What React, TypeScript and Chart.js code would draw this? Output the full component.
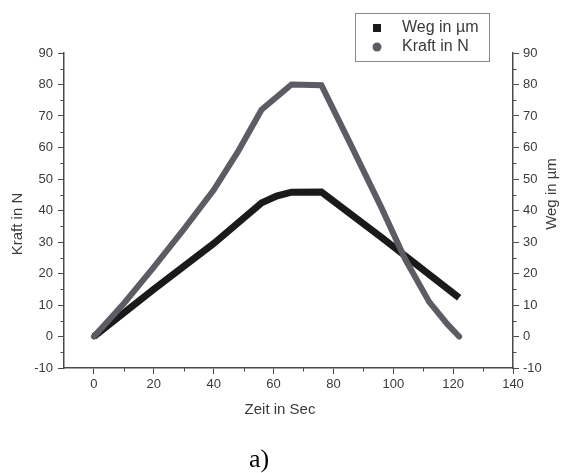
import React, { useEffect, useRef } from "react";
import { Chart, registerables } from "chart.js";

Chart.register(...registerables);

// ---- data ----
const wegPoints: [number, number][] = [
  [0, 0], [20, 15], [40, 29.5], [56, 42.4], [61, 44.6], [66, 45.8], [76, 45.9], [96, 31.5], [122, 12.3],
];
const kraftPoints: [number, number][] = [
  [0, 0], [10, 10.5], [20, 22], [30, 34], [40, 46.5], [48, 58.5], [56, 72], [66, 80], [76, 79.8],
  [86, 60.5], [96, 41], [104, 24.5], [112, 11], [118, 4], [122, 0],
];
const legendLabels = ["Weg in µm", "Kraft in N"];
const xTitle = "Zeit in Sec";
const yTitle = "Kraft in N";
const y1Title = "Weg in µm";
const captionText = "a)";
const xMinorTicks = [10, 30, 50, 70, 90, 110, 130];
const yMinorTicks = [-5, 5, 15, 25, 35, 45, 55, 65, 75, 85];

const BLACK = "rgb(26,26,26)";
const GRAY = "rgb(92,92,100)";
const AXIS = "#4a4a4a";
const TEXT = "#3a3a3a";
const SANS = "'Liberation Sans', Arial, sans-serif";

const overlayPlugin = {
  id: "overlay",
  afterDraw(chart: any) {
    const ctx = chart.ctx;
    const x = chart.scales.x;
    const y = chart.scales.y;
    const y1 = chart.scales.y1;
    const area = chart.chartArea;
    ctx.save();
    // minor ticks
    ctx.strokeStyle = AXIS;
    ctx.lineWidth = 1;
    ctx.beginPath();
    xMinorTicks.forEach((v) => {
      const px = Math.round(x.getPixelForValue(v)) + 0.5;
      ctx.moveTo(px, area.bottom);
      ctx.lineTo(px, area.bottom + 3.5);
    });
    yMinorTicks.forEach((v) => {
      const py = Math.round(y.getPixelForValue(v)) + 0.5;
      ctx.moveTo(area.left, py);
      ctx.lineTo(area.left - 3.5, py);
      const py1 = Math.round(y1.getPixelForValue(v)) + 0.5;
      ctx.moveTo(area.right, py1);
      ctx.lineTo(area.right + 3.5, py1);
    });
    ctx.stroke();

    // axis titles
    ctx.fillStyle = TEXT;
    ctx.font = `15px ${SANS}`;
    ctx.textAlign = "center";
    ctx.textBaseline = "middle";
    ctx.fillText(xTitle, 280, 410);
    ctx.save();
    ctx.translate(18, 224);
    ctx.rotate(-Math.PI / 2);
    ctx.fillText(yTitle, 0, 0);
    ctx.restore();
    ctx.save();
    ctx.translate(552, 194);
    ctx.rotate(-Math.PI / 2);
    ctx.fillText(y1Title, 0, 0);
    ctx.restore();

    // legend
    ctx.fillStyle = "#ffffff";
    ctx.fillRect(355, 13, 134, 48);
    ctx.strokeStyle = "#888888";
    ctx.lineWidth = 1;
    ctx.strokeRect(355.5, 13.5, 134, 48);
    const ds = chart.data.datasets;
    ctx.fillStyle = ds[0].borderColor;
    ctx.fillRect(373, 24, 8, 8);
    ctx.fillStyle = ds[1].borderColor;
    ctx.beginPath();
    ctx.arc(377, 47, 4.5, 0, Math.PI * 2);
    ctx.fill();
    ctx.fillStyle = TEXT;
    ctx.textAlign = "left";
    ctx.font = `16px ${SANS}`;
    ctx.fillText(legendLabels[0], 402, 28);
    ctx.fillText(legendLabels[1], 402, 47);

    // caption
    ctx.fillStyle = "#000";
    ctx.font = `26px 'Liberation Serif', 'Times New Roman', serif`;
    ctx.textAlign = "center";
    ctx.fillText(captionText, 259, 460);
    ctx.restore();
  },
};

export default function App() {
  const ref = useRef<HTMLCanvasElement | null>(null);
  useEffect(() => {
    if (!ref.current) return;
    const tickFont = { family: SANS, size: 13 };
    const gridCommon = {
      drawOnChartArea: false,
      drawTicks: true,
      tickLength: 6,
      tickColor: AXIS,
      tickWidth: 1,
    };
    const borderCommon = { display: true, color: AXIS, width: 1.5 };
    const chart = new Chart(ref.current, {
      type: "line",
      data: {
        datasets: [
          {
            label: legendLabels[0],
            data: wegPoints.map(([a, b]) => ({ x: a, y: b })),
            borderColor: BLACK,
            backgroundColor: BLACK,
            borderWidth: 7,
            pointRadius: 0,
            borderJoinStyle: "miter",
            borderCapStyle: "butt",
            tension: 0,
            yAxisID: "y1",
            order: 2,
          },
          {
            label: legendLabels[1],
            data: kraftPoints.map(([a, b]) => ({ x: a, y: b })),
            borderColor: GRAY,
            backgroundColor: GRAY,
            borderWidth: 6,
            pointRadius: 0,
            borderJoinStyle: "miter",
            borderCapStyle: "round",
            tension: 0,
            yAxisID: "y",
            order: 1,
          },
        ],
      },
      options: {
        animation: false,
        responsive: true,
        maintainAspectRatio: false,
        layout: { padding: { top: 53, left: 0, right: 0, bottom: 0 } },
        plugins: {
          legend: { display: false },
          tooltip: { enabled: false },
          title: { display: false },
        },
        events: [],
        scales: {
          x: {
            type: "linear",
            min: -10,
            max: 140,
            ticks: { stepSize: 20, includeBounds: false, font: tickFont, color: TEXT, padding: 3, maxRotation: 0 },
            grid: gridCommon,
            border: borderCommon,
            afterFit: (s: any) => {
              s.height = 105;
            },
          },
          y: {
            type: "linear",
            position: "left",
            min: -10,
            max: 90,
            ticks: { stepSize: 10, font: tickFont, color: TEXT, padding: 5 },
            grid: gridCommon,
            border: borderCommon,
            afterFit: (s: any) => {
              s.width = 64;
            },
          },
          y1: {
            type: "linear",
            position: "right",
            min: -10,
            max: 90,
            ticks: { stepSize: 10, font: tickFont, color: TEXT, padding: 4 },
            grid: gridCommon,
            border: borderCommon,
            afterFit: (s: any) => {
              s.width = 61;
            },
          },
        },
      },
      plugins: [overlayPlugin],
    } as any);
    return () => chart.destroy();
  }, []);
  return (
    <div style={{ position: "absolute", left: 0, top: 0, width: 574, height: 473, background: "#fff" }}>
      <canvas ref={ref} />
    </div>
  );
}
